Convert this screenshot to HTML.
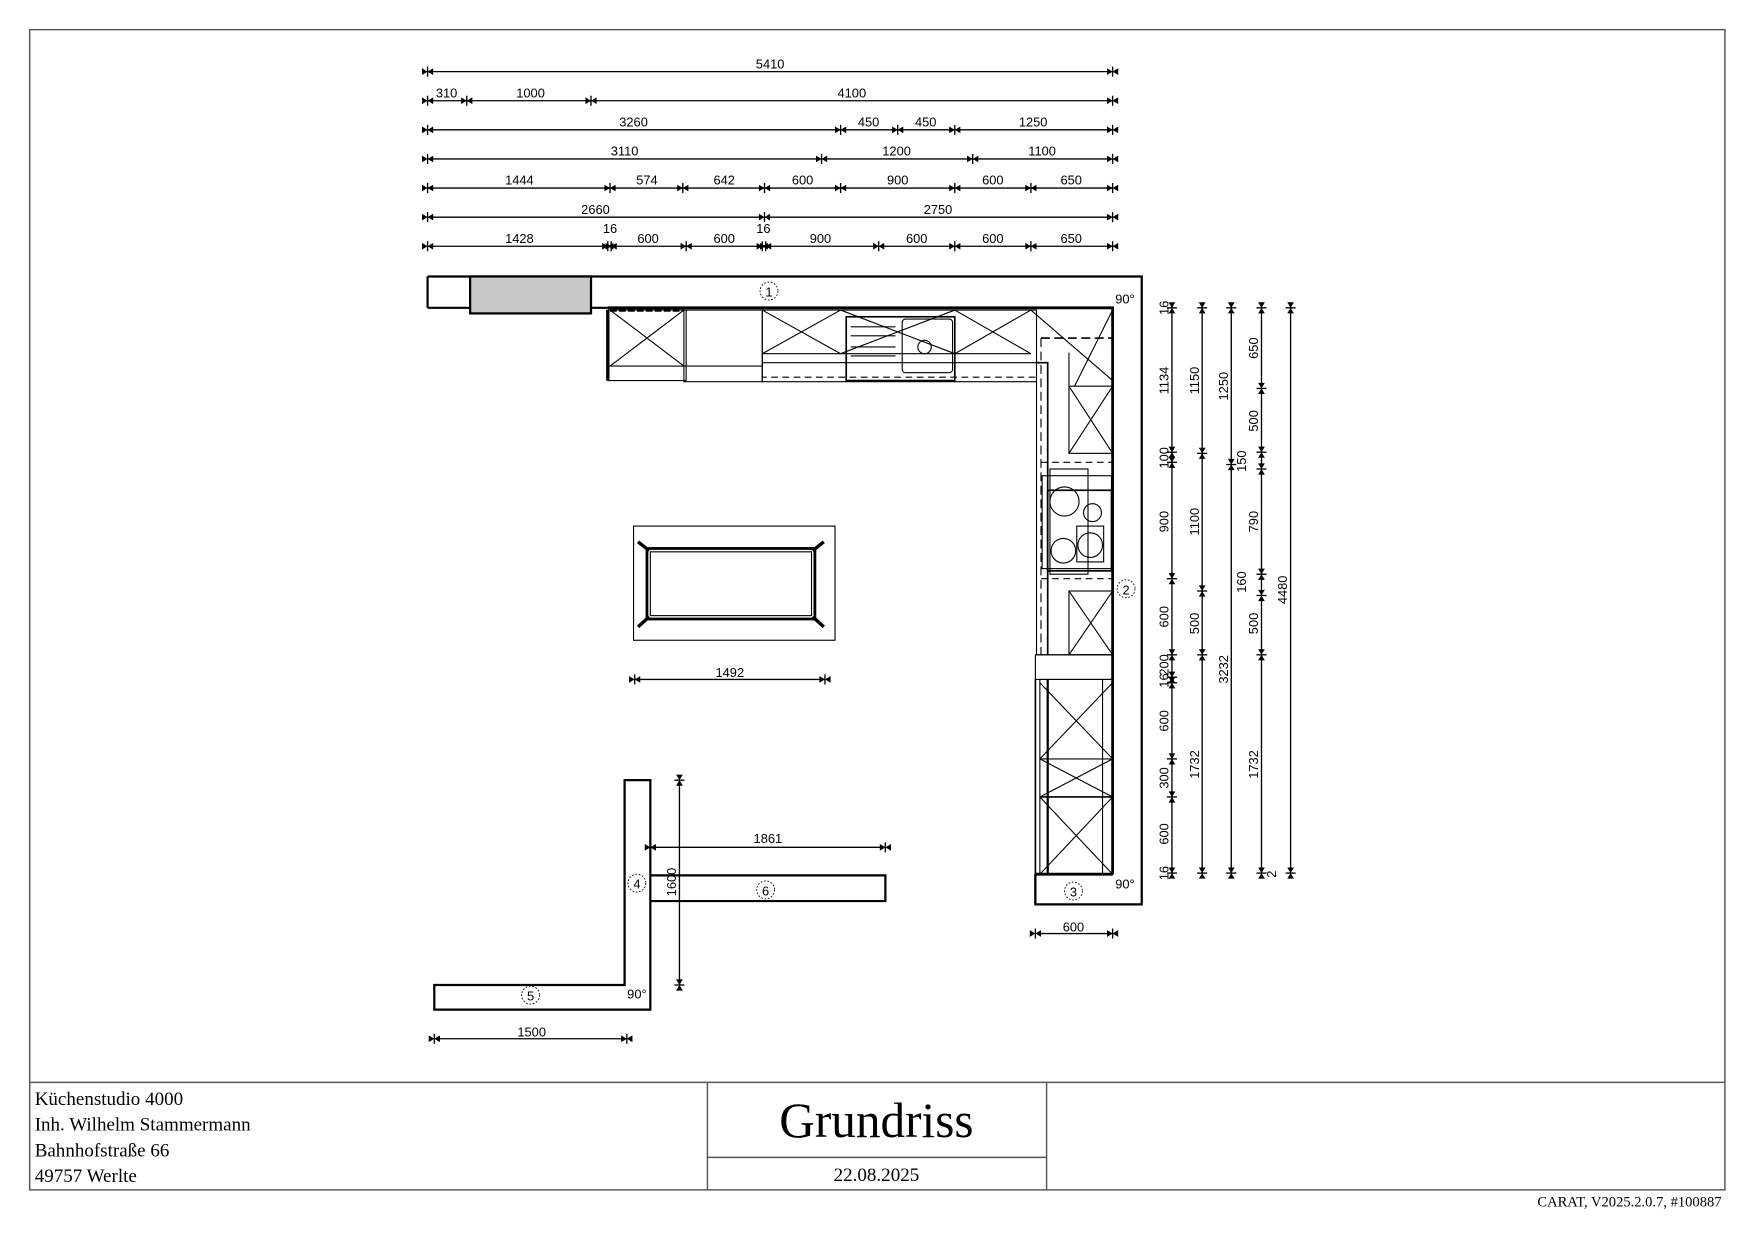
<!DOCTYPE html>
<html><head><meta charset="utf-8"><style>
html,body{margin:0;padding:0;background:#fff}
svg{display:block}
text{font-family:"Liberation Sans",sans-serif;font-size:11.5px;fill:#000}
.s{font-family:"Liberation Serif",serif}
</style></head><body>
<svg width="1754" height="1240" viewBox="0 0 1567 1107.8" preserveAspectRatio="none" xmlns="http://www.w3.org/2000/svg">
<defs>
<g id="h"><line x1="0" y1="-4.5" x2="0" y2="4.5" stroke="#000" stroke-width="1.2"/><polygon points="0,0 -5,-3 -5,3"/><polygon points="0,0 5,-3 5,3"/></g>
<g id="v"><line x1="-4.5" y1="0" x2="4.5" y2="0" stroke="#000" stroke-width="1.2"/><polygon points="0,0 -3,-5 3,-5"/><polygon points="0,0 -3,5 3,5"/></g>
</defs>
<rect width="1567" height="1108" fill="#fff"/>
<g fill="none" stroke="#555" stroke-width="1.3">
<rect x="26.5" y="26.5" width="1514.5" height="1036.5"/>
<line x1="26.5" y1="967" x2="1541" y2="967"/>
<line x1="632" y1="967" x2="632" y2="1063"/>
<line x1="935" y1="967" x2="935" y2="1063"/>
<line x1="632" y1="1034" x2="935" y2="1034"/>
</g>
<g class="s">
<text class="s" x="31" y="987" style="font-size:17px">Küchenstudio 4000</text>
<text class="s" x="31" y="1010" style="font-size:17px">Inh. Wilhelm Stammermann</text>
<text class="s" x="31" y="1033" style="font-size:17px">Bahnhofstraße 66</text>
<text class="s" x="31" y="1056" style="font-size:17px">49757 Werlte</text>
<text class="s" x="783" y="1016" text-anchor="middle" style="font-size:44px">Grundriss</text>
<text class="s" x="783" y="1055" text-anchor="middle" style="font-size:17px">22.08.2025</text>
<text class="s" x="1538" y="1078" text-anchor="end" style="font-size:13px">CARAT,  V2025.2.0.7,  #100887</text>
</g>

<g stroke="#000" stroke-width="1.2">
<line x1="382" y1="64" x2="994" y2="64"/><line x1="382" y1="90" x2="994" y2="90"/>
<line x1="382" y1="116" x2="994" y2="116"/><line x1="382" y1="142" x2="994" y2="142"/>
<line x1="382" y1="168" x2="994" y2="168"/><line x1="382" y1="194" x2="994" y2="194"/>
<line x1="382" y1="220" x2="994" y2="220"/>
</g>
<use href="#h" x="382" y="64"/><use href="#h" x="994" y="64"/>
<use href="#h" x="382" y="90"/><use href="#h" x="417" y="90"/><use href="#h" x="528" y="90"/><use href="#h" x="994" y="90"/>
<use href="#h" x="382" y="116"/><use href="#h" x="751" y="116"/><use href="#h" x="802" y="116"/><use href="#h" x="853" y="116"/><use href="#h" x="994" y="116"/>
<use href="#h" x="382" y="142"/><use href="#h" x="734" y="142"/><use href="#h" x="869" y="142"/><use href="#h" x="994" y="142"/>
<use href="#h" x="382" y="168"/><use href="#h" x="545" y="168"/><use href="#h" x="610" y="168"/><use href="#h" x="683" y="168"/><use href="#h" x="751" y="168"/><use href="#h" x="853" y="168"/><use href="#h" x="921" y="168"/><use href="#h" x="994" y="168"/>
<use href="#h" x="382" y="194"/><use href="#h" x="683" y="194"/><use href="#h" x="994" y="194"/>
<use href="#h" x="382" y="220"/><use href="#h" x="543" y="220"/><use href="#h" x="546" y="220"/><use href="#h" x="613" y="220"/><use href="#h" x="681" y="220"/><use href="#h" x="684" y="220"/><use href="#h" x="785" y="220"/><use href="#h" x="853" y="220"/><use href="#h" x="921" y="220"/><use href="#h" x="994" y="220"/>
<g text-anchor="middle">
<text x="688" y="61">5410</text>
<text x="399" y="87">310</text><text x="474" y="87">1000</text><text x="761" y="87">4100</text>
<text x="566" y="113">3260</text><text x="776" y="113">450</text><text x="827" y="113">450</text><text x="923" y="113">1250</text>
<text x="558" y="139">3110</text><text x="801" y="139">1200</text><text x="931" y="139">1100</text>
<text x="464" y="165">1444</text><text x="578" y="165">574</text><text x="647" y="165">642</text><text x="717" y="165">600</text><text x="802" y="165">900</text><text x="887" y="165">600</text><text x="957" y="165">650</text>
<text x="532" y="191">2660</text><text x="838" y="191">2750</text>
<text x="464" y="217">1428</text><text x="545" y="208">16</text><text x="579" y="217">600</text><text x="647" y="217">600</text><text x="682" y="208">16</text><text x="733" y="217">900</text><text x="819" y="217">600</text><text x="887" y="217">600</text><text x="957" y="217">650</text>
</g>

<g stroke="#000" stroke-width="1.2">
<line x1="1047" y1="273" x2="1047" y2="781"/><line x1="1074" y1="273" x2="1074" y2="781"/>
<line x1="1100" y1="273" x2="1100" y2="781"/><line x1="1127" y1="273" x2="1127" y2="781"/>
<line x1="1153" y1="273" x2="1153" y2="781"/>
</g>
<use href="#v" x="1047" y="275"/><use href="#v" x="1047" y="404"/><use href="#v" x="1047" y="413"/><use href="#v" x="1047" y="517"/><use href="#v" x="1047" y="585"/><use href="#v" x="1047" y="605"/><use href="#v" x="1047" y="610"/><use href="#v" x="1047" y="678"/><use href="#v" x="1047" y="712"/><use href="#v" x="1047" y="780"/>
<use href="#v" x="1074" y="275"/><use href="#v" x="1074" y="405"/><use href="#v" x="1074" y="528"/><use href="#v" x="1074" y="585"/><use href="#v" x="1074" y="780"/>
<use href="#v" x="1100" y="275"/><use href="#v" x="1100" y="415"/><use href="#v" x="1100" y="780"/>
<use href="#v" x="1127" y="275"/><use href="#v" x="1127" y="347"/><use href="#v" x="1127" y="404"/><use href="#v" x="1127" y="419"/><use href="#v" x="1127" y="513"/><use href="#v" x="1127" y="532"/><use href="#v" x="1127" y="585"/><use href="#v" x="1127" y="780"/>
<use href="#v" x="1153" y="275"/><use href="#v" x="1153" y="780"/>
<g>
<text transform="translate(1044,275) rotate(-90)" text-anchor="middle">16</text>
<text transform="translate(1044,340) rotate(-90)" text-anchor="middle">1134</text>
<text transform="translate(1044,409) rotate(-90)" text-anchor="middle">100</text>
<text transform="translate(1044,466) rotate(-90)" text-anchor="middle">900</text>
<text transform="translate(1044,551) rotate(-90)" text-anchor="middle">600</text>
<text transform="translate(1044,608) rotate(-90)" text-anchor="middle">16</text>
<text transform="translate(1044,594) rotate(-90)" text-anchor="middle">200</text>
<text transform="translate(1044,644) rotate(-90)" text-anchor="middle">600</text>
<text transform="translate(1044,695) rotate(-90)" text-anchor="middle">300</text>
<text transform="translate(1044,745) rotate(-90)" text-anchor="middle">600</text>
<text transform="translate(1044,780) rotate(-90)" text-anchor="middle">16</text>
<text transform="translate(1071,340) rotate(-90)" text-anchor="middle">1150</text>
<text transform="translate(1071,466) rotate(-90)" text-anchor="middle">1100</text>
<text transform="translate(1071,557) rotate(-90)" text-anchor="middle">500</text>
<text transform="translate(1071,683) rotate(-90)" text-anchor="middle">1732</text>
<text transform="translate(1097,345) rotate(-90)" text-anchor="middle">1250</text>
<text transform="translate(1113,412) rotate(-90)" text-anchor="middle">150</text>
<text transform="translate(1097,598) rotate(-90)" text-anchor="middle">3232</text>
<text transform="translate(1113,520) rotate(-90)" text-anchor="middle">160</text>
<text transform="translate(1124,311) rotate(-90)" text-anchor="middle">650</text>
<text transform="translate(1124,376) rotate(-90)" text-anchor="middle">500</text>
<text transform="translate(1124,466) rotate(-90)" text-anchor="middle">790</text>
<text transform="translate(1124,557) rotate(-90)" text-anchor="middle">500</text>
<text transform="translate(1124,683) rotate(-90)" text-anchor="middle">1732</text>
<text transform="translate(1140,781) rotate(-90)" text-anchor="middle">2</text>
<text transform="translate(1150,527) rotate(-90)" text-anchor="middle">4480</text>
</g>

<g fill="none" stroke="#000">
<path d="M382,247 H1020 V808 H925 V781" stroke-width="2"/>
<line x1="382" y1="247" x2="382" y2="275" stroke-width="2"/>
<line x1="382" y1="275" x2="543" y2="275" stroke-width="2"/>
<rect x="420" y="247" width="108" height="33" fill="#c8c8c8" stroke-width="2"/>
<path d="M543,275 H994 V781" stroke-width="2.5"/>
<rect x="543" y="277" width="70" height="63" stroke-width="1"/>
<line x1="543" y1="277" x2="543" y2="340" stroke-width="3"/>
<line x1="545" y1="277" x2="611" y2="277" stroke-width="3" stroke-dasharray="6,2"/>
<line x1="545" y1="277" x2="611" y2="327"/><line x1="611" y1="277" x2="545" y2="327"/>
<line x1="543" y1="327" x2="681" y2="327"/>
<rect x="611" y="277" width="70" height="64" stroke-width="1"/>
<rect x="681" y="277" width="245" height="64" stroke-width="1"/>
<line x1="681" y1="277" x2="751" y2="316"/><line x1="751" y1="277" x2="681" y2="316"/>
<line x1="751" y1="277" x2="853" y2="316"/><line x1="853" y1="277" x2="751" y2="316"/>
<line x1="853" y1="277" x2="921" y2="316"/><line x1="921" y1="277" x2="853" y2="316"/>
<line x1="681" y1="316" x2="921" y2="316"/>
<line x1="681" y1="324" x2="926" y2="324"/>
<rect x="756" y="283" width="97" height="57" stroke-width="1.5"/>
<rect x="806" y="285" width="45" height="48" rx="3"/>
<circle cx="826" cy="310" r="6"/>
<line x1="760" y1="292" x2="800" y2="292"/><line x1="760" y1="300" x2="800" y2="300"/><line x1="760" y1="310" x2="800" y2="310"/><line x1="760" y1="318" x2="800" y2="318"/>
<path d="M921,277 L994,340 M994,277 L960,345" />
<path d="M925,337 H681" stroke-dasharray="6,4"/>
<path d="M930,302 H994" stroke-dasharray="8,4" stroke-width="1.5"/>
<path d="M930,302 V585" stroke-dasharray="8,4"/>
<path d="M926,324 H936 V585" stroke-width="1.5"/>
<path d="M926,341 V585 H994" stroke-width="1"/>
<rect x="955" y="345" width="39" height="60"/>
<line x1="955" y1="345" x2="994" y2="405"/><line x1="994" y1="345" x2="955" y2="405"/>
<line x1="955" y1="315" x2="955" y2="345"/>
<line x1="930" y1="413" x2="994" y2="413" stroke-dasharray="6,4"/>
<line x1="930" y1="517" x2="994" y2="517" stroke-dasharray="6,4"/>
<rect x="931" y="425" width="62" height="83"/>
<rect x="938" y="419" width="34" height="94"/>
<rect x="936" y="438" width="57" height="72" stroke-width="1.5"/>
<circle cx="951" cy="448" r="13"/><circle cx="976" cy="458" r="8"/>
<circle cx="950" cy="492" r="11"/><circle cx="974" cy="487" r="11"/>
<rect x="962" y="470" width="24" height="32"/>
<rect x="955" y="528" width="39" height="57"/>
<line x1="955" y1="528" x2="994" y2="585"/><line x1="994" y1="528" x2="955" y2="585"/>
<rect x="925" y="585" width="69" height="22"/>
<rect x="929" y="607" width="65" height="174" stroke-width="1"/>
<line x1="936" y1="607" x2="936" y2="781" stroke-width="2"/>
<line x1="985" y1="607" x2="985" y2="781"/>
<line x1="925" y1="607" x2="925" y2="781" stroke-width="1.5"/>
<line x1="929" y1="678" x2="994" y2="678"/><line x1="929" y1="712" x2="994" y2="712" stroke-width="1.5"/>
<line x1="929" y1="610" x2="994" y2="678"/><line x1="994" y1="610" x2="929" y2="678"/>
<line x1="929" y1="678" x2="994" y2="712"/><line x1="994" y1="678" x2="929" y2="712"/>
<line x1="929" y1="712" x2="994" y2="781"/><line x1="994" y1="712" x2="929" y2="781"/>
<line x1="925" y1="781" x2="994" y2="781" stroke-width="2.5"/>
<line x1="925" y1="781" x2="925" y2="808" stroke-width="2"/>
<rect x="566" y="470" width="180" height="102"/>
<rect x="578" y="490" width="150" height="63" stroke-width="2.5"/>
<rect x="581" y="493" width="144" height="57"/>
<line x1="570" y1="484" x2="580" y2="492" stroke-width="3"/><line x1="736" y1="484" x2="726" y2="492" stroke-width="3"/>
<line x1="570" y1="560" x2="580" y2="551" stroke-width="3"/><line x1="736" y1="560" x2="726" y2="551" stroke-width="3"/>
<path d="M558,697 H581 V902 H388 V880 H558 Z" stroke-width="2"/>
<path d="M581,782 H791 V805 H581" stroke-width="2"/>
<line x1="567" y1="607" x2="737" y2="607" stroke-width="1.2"/>
<line x1="581" y1="757" x2="791" y2="757" stroke-width="1.2"/>
<line x1="607" y1="697" x2="607" y2="880" stroke-width="1.2"/>
<line x1="388" y1="928" x2="560" y2="928" stroke-width="1.2"/>
<line x1="925" y1="834" x2="994" y2="834" stroke-width="1.2"/>
<g stroke-dasharray="1.5,1.5" stroke-width="0.8">
<circle cx="687" cy="260" r="8"/><circle cx="1006" cy="526" r="8"/><circle cx="959" cy="796" r="8"/>
<circle cx="569" cy="789" r="8"/><circle cx="474" cy="889" r="8"/><circle cx="684" cy="795" r="8"/>
</g>
</g>
<use href="#h" x="567" y="607"/><use href="#h" x="737" y="607"/>
<use href="#h" x="581" y="757"/><use href="#h" x="791" y="757"/>
<use href="#v" x="607" y="697"/><use href="#v" x="607" y="880"/>
<use href="#h" x="388" y="928"/><use href="#h" x="560" y="928"/>
<use href="#h" x="925" y="834"/><use href="#h" x="994" y="834"/>
<g text-anchor="middle">
<text x="652" y="605">1492</text><text x="686" y="753">1861</text><text x="475" y="926">1500</text><text x="959" y="832">600</text>
<text transform="translate(604,788) rotate(-90)">1600</text>
<text x="687" y="265">1</text><text x="1006" y="531">2</text><text x="959" y="801">3</text>
<text x="569" y="794">4</text><text x="474" y="894">5</text><text x="684" y="800">6</text>
<text x="1005" y="271">90°</text><text x="1005" y="794">90°</text><text x="569" y="892">90°</text>
</g>
</svg>
</body></html>
